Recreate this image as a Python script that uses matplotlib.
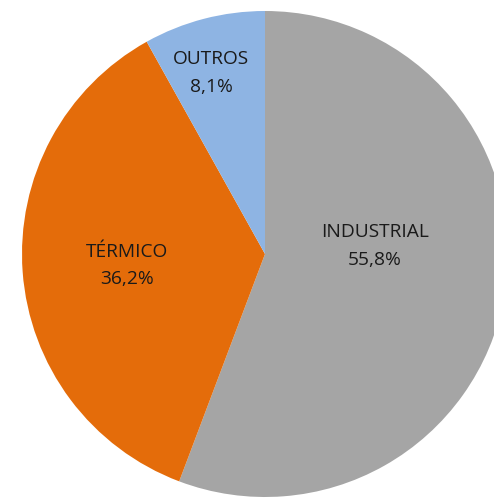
import matplotlib.pyplot as plt

categorias = ['INDUSTRIAL', 'TÉRMICO', 'OUTROS']
valores = [55.8, 36.2, 8.1]
cores = ['#a5a5a5', '#e46c0a', '#8eb4e3']

# pixel geometry of the pie in the 494x500 image
cx, cy, r = 265.0, 254.0, 243.0
W, H = 494.0, 500.0

fig = plt.figure(figsize=(4.94, 5.0), dpi=100)
ax = fig.add_axes([0, 0, 1, 1])
ax.pie(valores, colors=cores, startangle=90, counterclock=False,
       radius=1, center=(0, 0), wedgeprops=dict(linewidth=0))
ax.set_xlim(-cx / r, (W - cx) / r)
ax.set_ylim(-(H - cy) / r, cy / r)
ax.set_aspect('auto')
ax.axis('off')

# label positions (fraction of radius), as placed in the original
pos = [(0.453, 0.033), (-0.568, -0.049), (-0.222, 0.745)]
for nome, v, (px, py) in zip(categorias, valores, pos):
    txt = nome + '\n' + ('%.1f%%' % v).replace('.', ',')
    ax.text(px, py, txt, ha='center', va='center', fontsize=13.8,
            family='Open Sans', color='#1a1a1a', linespacing=1.65)

fig.savefig('out.png', dpi=100)
